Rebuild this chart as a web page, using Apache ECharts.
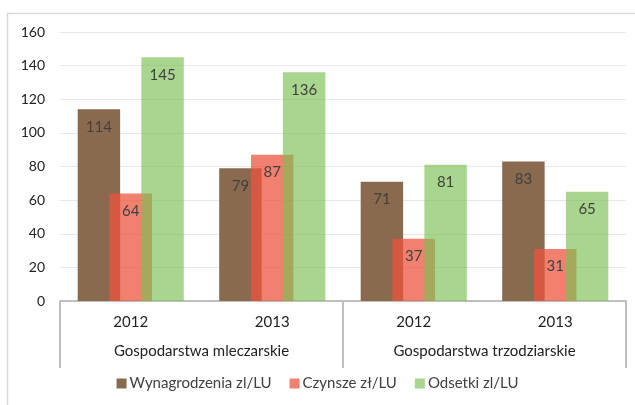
<!DOCTYPE html>
<html><head><meta charset="utf-8">
<script src="https://cdn.jsdelivr.net/npm/echarts@6/dist/echarts.min.js"></script>
<style>html,body{margin:0;padding:0;background:#fff}#c{width:635px;height:405px}</style>
</head><body><div id="c"></div>
<script>
const years = ['2012', '2013', '2012', '2013'];
const groups = ['Gospodarstwa mleczarskie', 'Gospodarstwa trzodziarskie'];
const seriesNames = ['Wynagrodzenia zl/LU', 'Czynsze zł/LU', 'Odsetki zl/LU'];
const wynagrodzenia = [114, 79, 71, 83];
const czynsze = [64, 87, 37, 31];
const odsetki = [145, 136, 81, 65];
const yTicks = [0, 20, 40, 60, 80, 100, 120, 140, 160];

const FONT = 'Lato';
const colors = ['#8A6A4F', 'rgba(237,83,60,0.74)', 'rgba(123,192,82,0.65)'];
const values = [wynagrodzenia, czynsze, odsetki];

const chart = echarts.init(document.getElementById('c'));
chart.setOption({
  animation: false,
  textStyle: { fontFamily: FONT },
  graphic: [{
    type: 'rect', shape: { x: 7.5, y: 13.5, width: 640, height: 400 },
    style: { fill: 'none', stroke: '#D9D9D9', lineWidth: 1.5 }, silent: true, z: -10
  }],
  legend: {
    bottom: 9, left: 'center', itemWidth: 10, itemHeight: 10, itemGap: 18,
    icon: 'rect',
    textStyle: { fontFamily: FONT, fontSize: 15, color: '#404040', padding: [0, 0, 0, -2] },
    data: seriesNames.map((n, i) => ({ name: n, itemStyle: { color: i === 0 ? '#8A6A4F' : (i === 1 ? '#F2806F' : '#A9D58E') } }))
  },
  grid: { left: 60, right: 9, top: 32, bottom: 104, containLabel: false },
  xAxis: [{
    type: 'category', data: years, position: 'bottom',
    axisLine: { lineStyle: { color: '#BFBFBF', width: 2 } },
    axisTick: { show: false },
    axisLabel: { fontFamily: FONT, fontSize: 15, color: '#222', margin: 14 }
  }, {
    type: 'category', data: groups, position: 'bottom',
    axisLine: { show: false },
    axisTick: { show: true, length: 67, lineStyle: { color: '#BFBFBF', width: 2 } },
    axisLabel: { fontFamily: FONT, fontSize: 15, color: '#222', margin: 43 }
  }],
  yAxis: {
    type: 'value', min: yTicks[0], max: yTicks[yTicks.length - 1], interval: 20,
    axisLine: { show: false }, axisTick: { show: false },
    splitLine: { lineStyle: { color: '#E8E8E8', width: 1 } },
    axisLabel: { fontFamily: FONT, fontSize: 14, color: '#222', margin: 15 }
  },
  series: seriesNames.map((n, i) => ({
    name: n, type: 'bar', xAxisIndex: 0, data: values[i],
    barWidth: '30%', barGap: '-25%',
    itemStyle: { color: colors[i] },
    label: { show: true, position: 'insideTop', distance: 10, fontFamily: FONT, fontSize: 15, color: '#404040' }
  }))
});
</script></body></html>
